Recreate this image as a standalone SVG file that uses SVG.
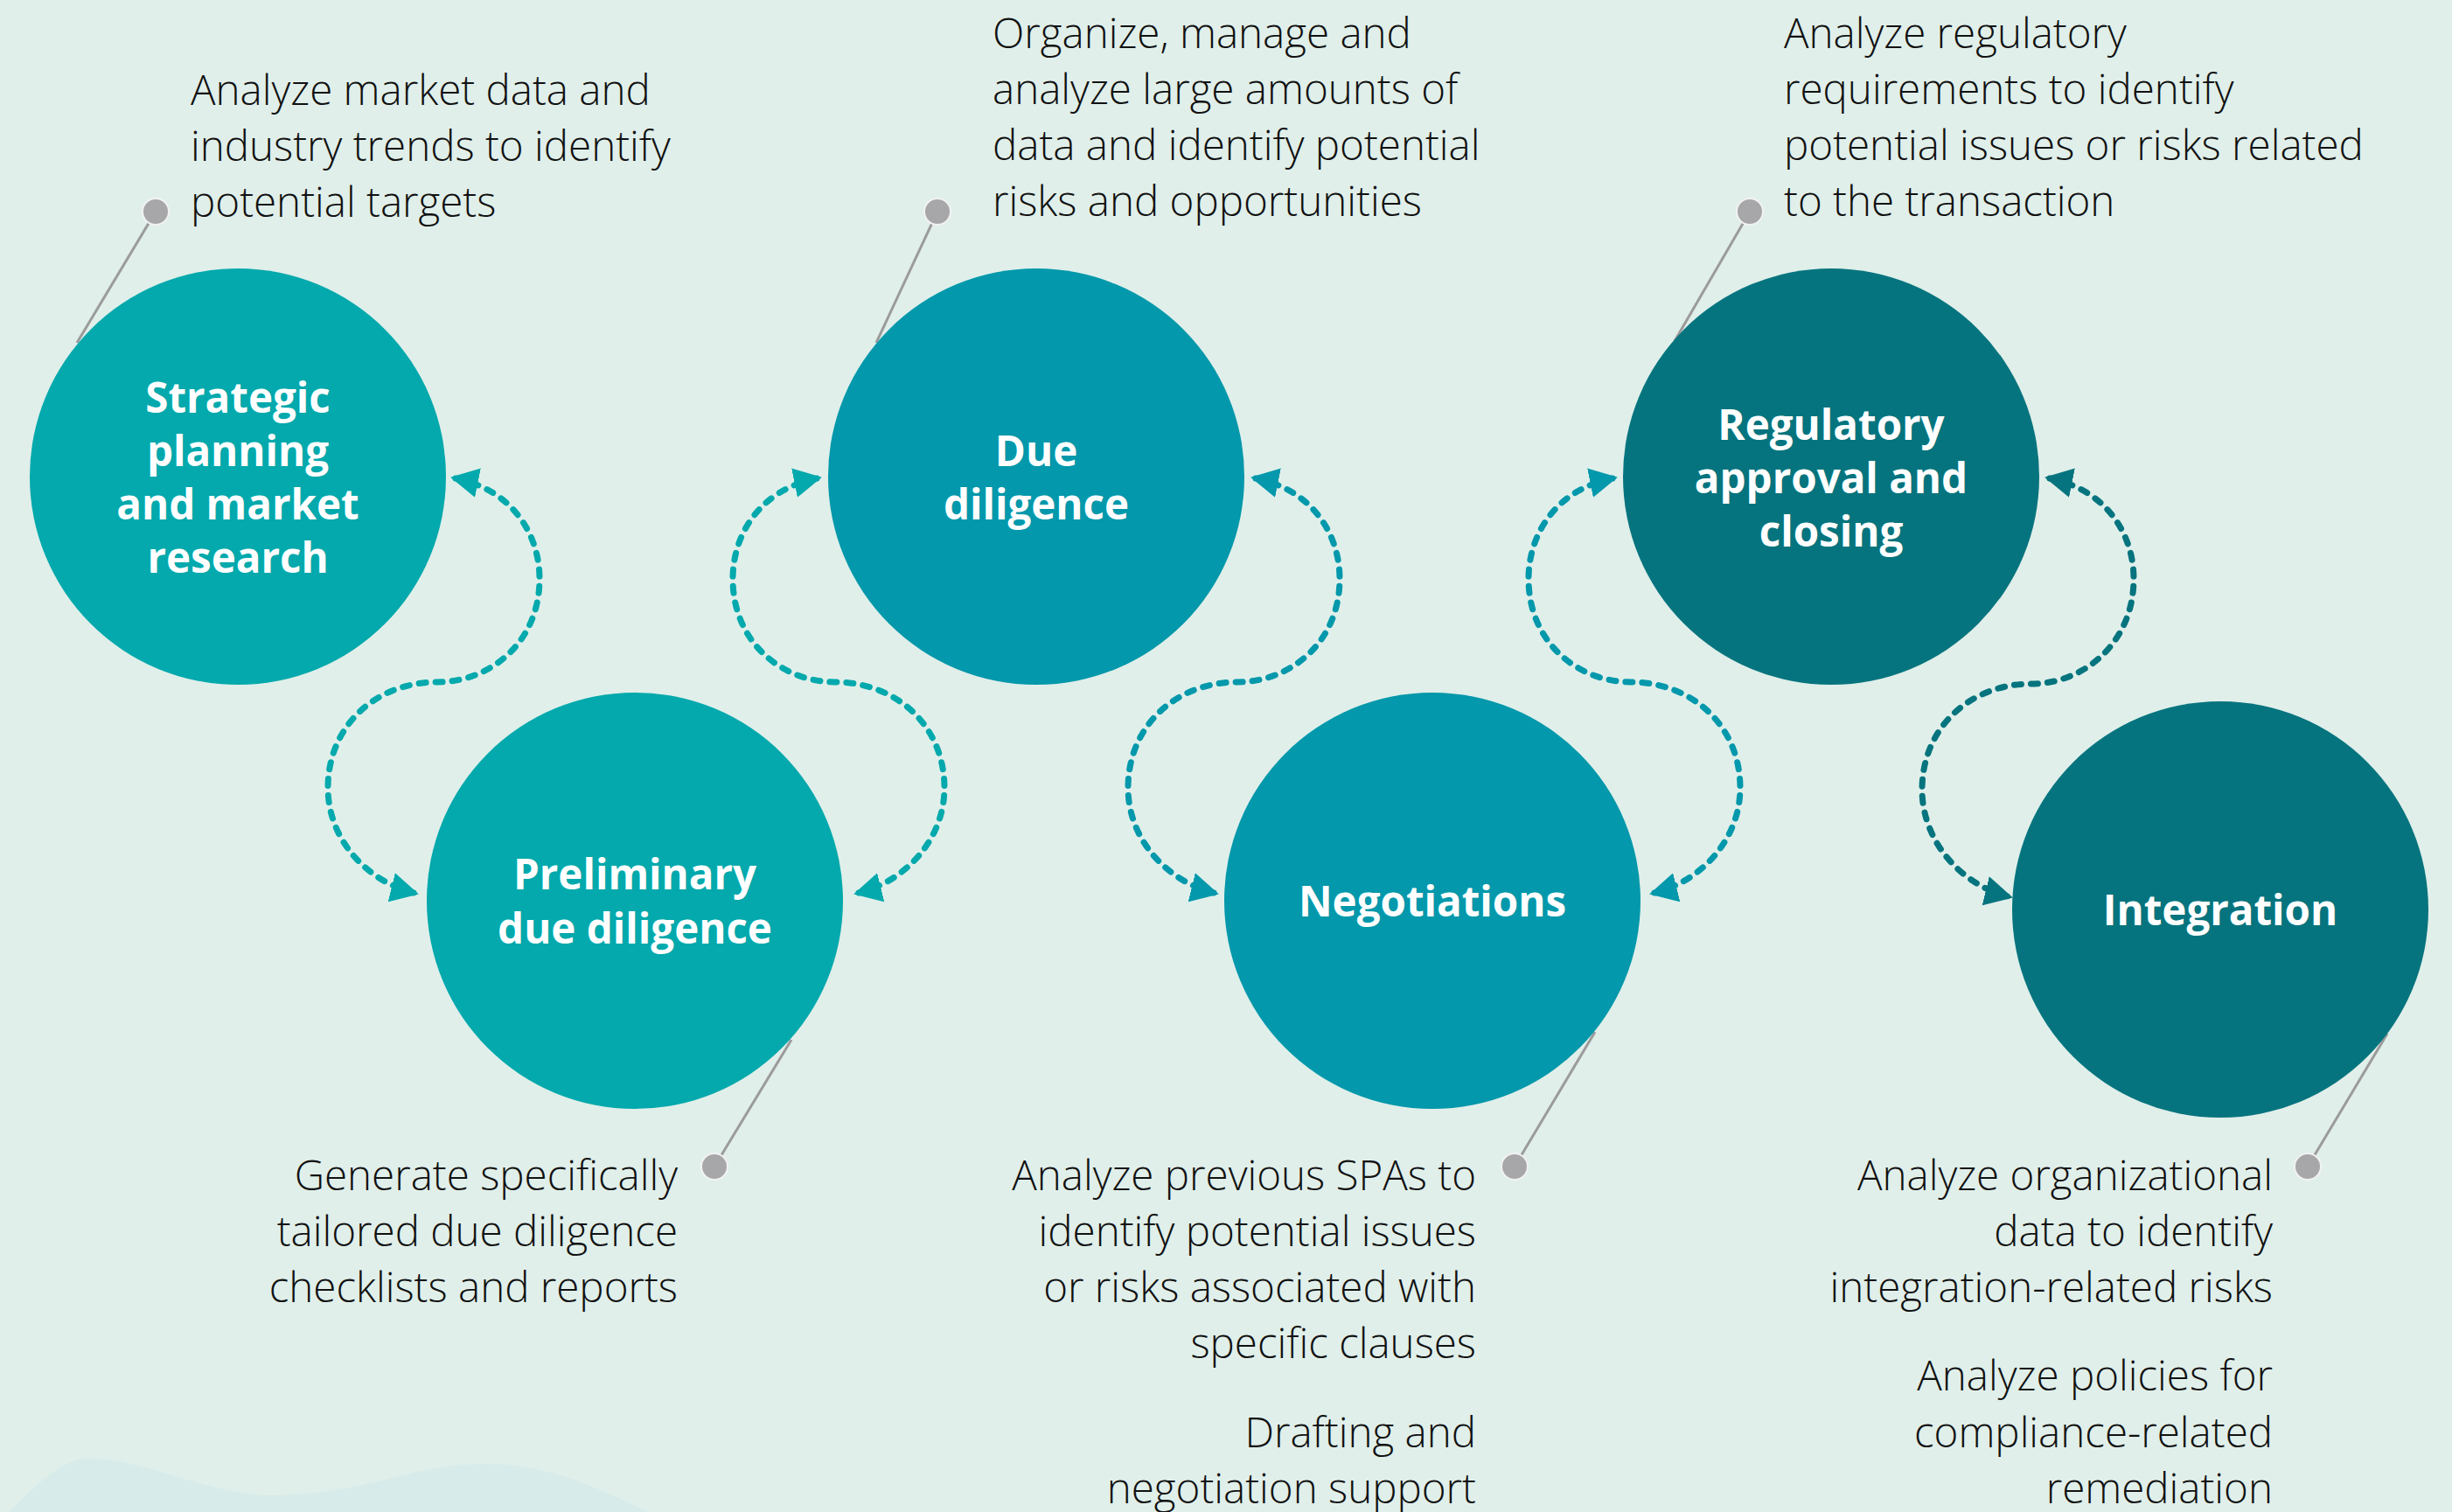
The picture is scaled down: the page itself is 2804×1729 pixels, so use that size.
<svg xmlns="http://www.w3.org/2000/svg" width="2804" height="1729" viewBox="0 0 2804 1729">
<defs>
<style>
.desc{font-family:"Open Sans","Liberation Sans",sans-serif;font-weight:300;font-size:47.5px;fill:#111111}
.end{text-anchor:end}
.lbl{font-family:"Open Sans","Liberation Sans",sans-serif;font-weight:700;font-size:47.5px;fill:#ffffff;text-anchor:middle}
.conn{fill:none;stroke-width:7;stroke-linecap:round;stroke-dasharray:8 11}
.pinline{stroke:#9b9b9b;stroke-width:3;fill:none}
.pin{fill:#a7a7aa;stroke:#f2f2f2;stroke-width:2}
</style>
<marker id="ah1" viewBox="0 0 34 34" refX="26" refY="17" markerWidth="34" markerHeight="34" markerUnits="userSpaceOnUse" orient="auto-start-reverse"><path d="M0,0 L32,17 L0,34 Z" fill="#03a9ac"/></marker>
<marker id="ah2" viewBox="0 0 34 34" refX="26" refY="17" markerWidth="34" markerHeight="34" markerUnits="userSpaceOnUse" orient="auto-start-reverse"><path d="M0,0 L32,17 L0,34 Z" fill="#0398ab"/></marker>
<marker id="ah3" viewBox="0 0 34 34" refX="26" refY="17" markerWidth="34" markerHeight="34" markerUnits="userSpaceOnUse" orient="auto-start-reverse"><path d="M0,0 L32,17 L0,34 Z" fill="#06747e"/></marker>
</defs>
<rect x="0" y="0" width="2804" height="1729" fill="#e0efea"/>
<path d="M10,1729 C40,1700 70,1668 100,1668 C170,1668 240,1712 320,1710 C420,1708 480,1672 560,1674 C640,1676 700,1710 740,1729 Z" fill="#c6e5ea" opacity="0.35"/>

<g id="connectors">
<path class="conn" stroke="#03a9ac" marker-start="url(#ah1)" marker-end="url(#ah1)" d="M521,547 C585,560 617,610 617,662 C617,735 560,780 500,780 C430,780 375,830 375,901 C375,960 420,1008 473,1021"/>
<path class="conn" stroke="#03a9ac" marker-start="url(#ah1)" marker-end="url(#ah1)" d="M934,547 C870,560 838,610 838,662 C838,735 895,780 955,780 C1025,780 1080,830 1080,901 C1080,960 1035,1008 982,1021"/>
<path class="conn" stroke="#0398ab" marker-start="url(#ah2)" marker-end="url(#ah2)" d="M1436,547 C1500,560 1532,610 1532,662 C1532,735 1475,780 1415,780 C1345,780 1290,830 1290,901 C1290,960 1335,1008 1388,1021"/>
<path class="conn" stroke="#0398ab" marker-start="url(#ah2)" marker-end="url(#ah2)" d="M1844,547 C1780,560 1748,610 1748,662 C1748,735 1805,780 1865,780 C1935,780 1990,830 1990,901 C1990,960 1945,1008 1892,1021"/>
<path class="conn" stroke="#06747e" marker-start="url(#ah3)" marker-end="url(#ah3)" d="M2344,547 C2408,560 2440,610 2440,662 C2440,735 2383,782 2323,782 C2253,782 2198,832 2198,903 C2198,962 2243,1012 2296,1025"/>
<line class="pinline" x1="178" y1="242" x2="88" y2="392"/>
<line class="pinline" x1="1072" y1="242" x2="1002" y2="392"/>
<line class="pinline" x1="2001" y1="242" x2="1915" y2="390"/>
<line class="pinline" x1="817" y1="1334" x2="905" y2="1189"/>
<line class="pinline" x1="1732" y1="1334" x2="1824" y2="1180"/>
<line class="pinline" x1="2639" y1="1334" x2="2730" y2="1182"/>
<circle class="pin" cx="178" cy="242" r="15"/>
<circle class="pin" cx="1072" cy="242" r="15"/>
<circle class="pin" cx="2001" cy="242" r="15"/>
<circle class="pin" cx="817" cy="1334" r="15"/>
<circle class="pin" cx="1732" cy="1334" r="15"/>
<circle class="pin" cx="2639" cy="1334" r="15"/>
</g>

<g id="node-strategic">
<circle cx="272" cy="545" r="238" fill="#03a9ac"/>
<text class="lbl"><tspan x="272" y="472">Strategic</tspan><tspan x="272" y="533">planning</tspan><tspan x="272" y="594">and market</tspan><tspan x="272" y="655">research</tspan></text>
<text class="desc"><tspan x="218" y="120">Analyze market data and</tspan><tspan x="218" y="184">industry trends to identify</tspan><tspan x="218" y="248">potential targets</tspan></text>
</g>

<g id="node-preliminary">
<circle cx="726" cy="1030" r="238" fill="#03a9ac"/>
<text class="lbl"><tspan x="726" y="1017">Preliminary</tspan><tspan x="726" y="1079">due diligence</tspan></text>
<text class="desc end"><tspan x="775" y="1361">Generate specifically</tspan><tspan x="775" y="1425">tailored due diligence</tspan><tspan x="775" y="1489">checklists and reports</tspan></text>
</g>

<g id="node-due-diligence">
<circle cx="1185" cy="545" r="238" fill="#0398ab"/>
<text class="lbl"><tspan x="1185" y="533">Due</tspan><tspan x="1185" y="594">diligence</tspan></text>
<text class="desc"><tspan x="1135" y="55">Organize, manage and</tspan><tspan x="1135" y="119">analyze large amounts of</tspan><tspan x="1135" y="183">data and identify potential</tspan><tspan x="1135" y="247">risks and opportunities</tspan></text>
</g>

<g id="node-negotiations">
<circle cx="1638" cy="1030" r="238" fill="#0398ab"/>
<text class="lbl" x="1638" y="1048">Negotiations</text>
<text class="desc end"><tspan x="1688" y="1361">Analyze previous SPAs to</tspan><tspan x="1688" y="1425">identify potential issues</tspan><tspan x="1688" y="1489">or risks associated with</tspan><tspan x="1688" y="1553">specific clauses</tspan><tspan x="1688" y="1655">Drafting and</tspan><tspan x="1688" y="1719">negotiation support</tspan></text>
</g>

<g id="node-regulatory">
<circle cx="2094" cy="545" r="238" fill="#06747e"/>
<text class="lbl"><tspan x="2094" y="503">Regulatory</tspan><tspan x="2094" y="564">approval and</tspan><tspan x="2094" y="625">closing</tspan></text>
<text class="desc"><tspan x="2040" y="55">Analyze regulatory</tspan><tspan x="2040" y="119">requirements to identify</tspan><tspan x="2040" y="183">potential issues or risks related</tspan><tspan x="2040" y="247">to the transaction</tspan></text>
</g>

<g id="node-integration">
<circle cx="2539" cy="1040" r="238" fill="#06747e"/>
<text class="lbl" x="2539" y="1058">Integration</text>
<text class="desc end"><tspan x="2599" y="1361">Analyze organizational</tspan><tspan x="2599" y="1425">data to identify</tspan><tspan x="2599" y="1489">integration-related risks</tspan><tspan x="2599" y="1590">Analyze policies for</tspan><tspan x="2599" y="1655">compliance-related</tspan><tspan x="2599" y="1719">remediation</tspan></text>
</g>
</svg>
